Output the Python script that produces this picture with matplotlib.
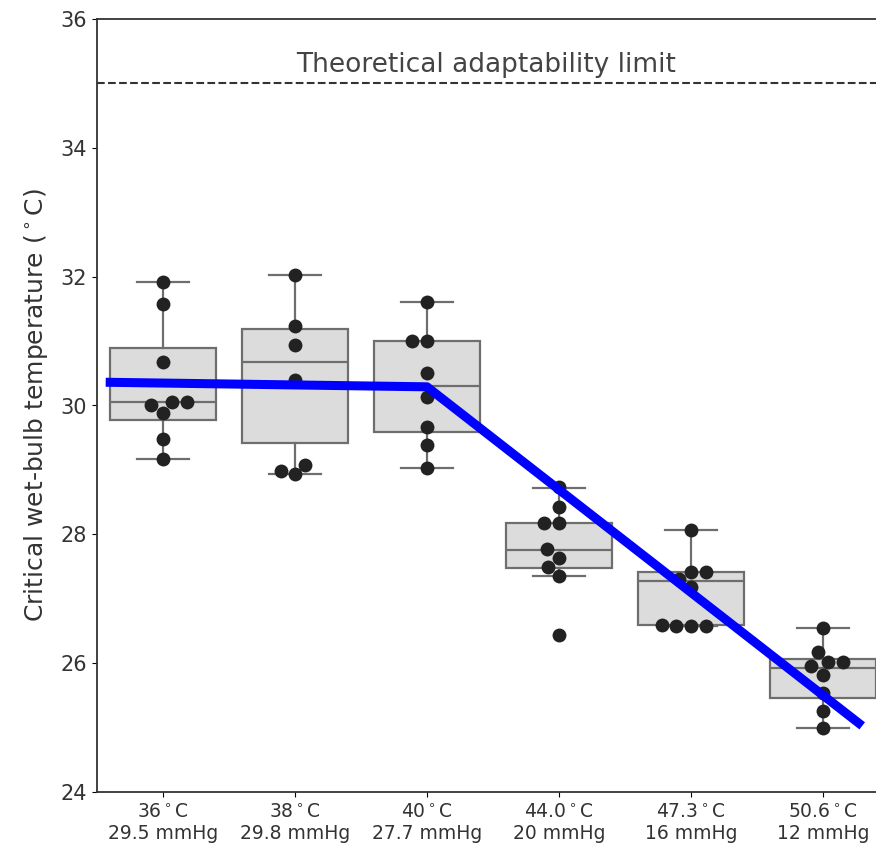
import matplotlib

matplotlib.use("Agg")
import matplotlib.pyplot as plt
import pandas as pd
import seaborn as sns

TICK_LABELS = [
    "36$^\\circ$C\n29.5 mmHg",
    "38$^\\circ$C\n29.8 mmHg",
    "40$^\\circ$C\n27.7 mmHg",
    "44.0$^\\circ$C\n20 mmHg",
    "47.3$^\\circ$C\n16 mmHg",
    "50.6$^\\circ$C\n12 mmHg",
]

# individual critical wet-bulb temperatures per condition
POINTS = [
    [31.92, 31.58, 30.68, 30.05, 30.05, 30.01, 29.88, 29.48, 29.17],
    [32.03, 31.24, 30.94, 30.40, 29.08, 28.98, 28.93],
    [31.61, 31.00, 31.00, 30.50, 30.13, 29.67, 29.39, 29.03],
    [28.74, 28.43, 28.17, 28.17, 27.77, 27.64, 27.49, 27.35, 26.44],
    [28.06, 27.42, 27.42, 27.30, 27.18, 26.60, 26.57, 26.57, 26.57],
    [26.55, 26.17, 26.02, 26.02, 25.95, 25.82, 25.53, 25.25, 25.00],
]

# box statistics
Q1 = [29.77, 29.42, 29.59, 27.47, 26.59, 25.46]
MEDIAN = [30.05, 30.67, 30.31, 27.76, 27.27, 25.92]
Q3 = [30.90, 31.18, 31.00, 28.17, 27.42, 26.06]
WHISK_LO = [29.17, 28.93, 29.03, 27.35, 26.57, 25.00]
WHISK_HI = [31.92, 32.03, 31.61, 28.72, 28.06, 26.55]

# piecewise fit (x in category positions)
FIT_X = [-0.4, 2.0, 5.27]
FIT_Y = [30.36, 30.29, 25.07]

LIMIT = 35.0

W, H = 876, 847


def main() -> None:
    fig = plt.figure(figsize=(W / 100, H / 100), dpi=100)
    left, right, top, bottom = 97, 889, 19, 792
    ax = fig.add_axes(
        [left / W, (H - bottom) / H, (right - left) / W, (bottom - top) / H]
    )

    stats = [
        {"q1": a, "med": m, "q3": b, "whislo": lo, "whishi": hi, "fliers": []}
        for a, m, b, lo, hi in zip(Q1, MEDIAN, Q3, WHISK_LO, WHISK_HI)
    ]
    edge = "#6e6e6e"
    ax.bxp(
        stats,
        positions=range(len(stats)),
        widths=0.8,
        capwidths=0.4,
        patch_artist=True,
        showfliers=False,
        boxprops={"facecolor": "#dcdcdc", "edgecolor": edge, "linewidth": 1.6},
        medianprops={"color": edge, "linewidth": 1.6},
        whiskerprops={"color": edge, "linewidth": 1.6},
        capprops={"color": edge, "linewidth": 1.6},
        zorder=1,
    )

    df = pd.DataFrame(
        [(i, v) for i, vals in enumerate(POINTS) for v in vals],
        columns=["cond", "twb"],
    )
    sns.swarmplot(
        data=df,
        x="cond",
        y="twb",
        order=list(range(len(POINTS))),
        native_scale=True,
        color="#222222",
        size=10,
        ax=ax,
        zorder=3,
    )

    ax.plot(FIT_X, FIT_Y, color="#0000ff", linewidth=6.5, zorder=4)

    ax.axhline(LIMIT, color="#333333", linestyle="--", linewidth=1.5, zorder=2)
    ax.text(
        2.45,
        LIMIT + 0.08,
        "Theoretical adaptability limit",
        ha="center",
        va="bottom",
        fontsize=19,
        color="#444444",
    )

    ax.set_xlim(-0.5, 5.5)
    ax.set_ylim(24, 36)
    ax.set_xticks(range(len(TICK_LABELS)))
    ax.set_xticklabels(TICK_LABELS, fontsize=13.5, color="#333333")
    ax.set_yticks([24, 26, 28, 30, 32, 34, 36])
    ax.tick_params(axis="y", labelsize=15, labelcolor="#333333")
    ax.set_xlabel("")
    ax.set_ylabel(
        "Critical wet-bulb temperature ($^\\circ$C)",
        fontsize=18,
        color="#333333",
        labelpad=8,
    )
    for spine in ax.spines.values():
        spine.set_color("#333333")
        spine.set_linewidth(1.3)

    fig.savefig("out.png", dpi=100)


if __name__ == "__main__":
    main()
